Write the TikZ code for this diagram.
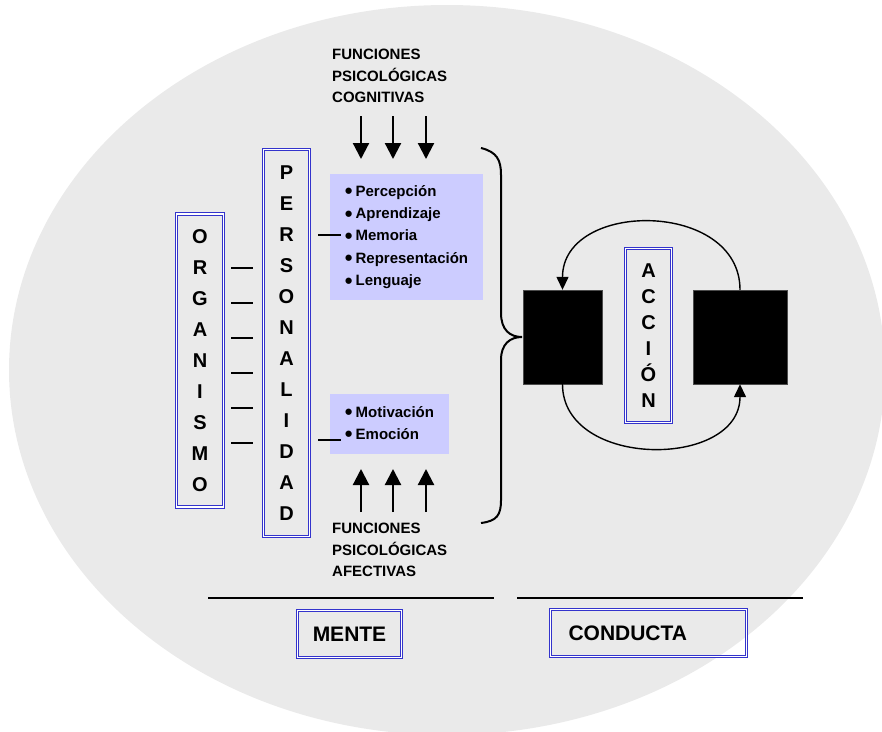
\documentclass[tikz,border=0pt]{standalone}
\usepackage{fontspec}
\setmainfont{Liberation Sans}
\usetikzlibrary{arrows.meta}
\definecolor{FrameBlue}{RGB}{51, 51, 204}
\definecolor{PaleLilac}{RGB}{204, 204, 255}
\definecolor{OvalGray}{RGB}{234, 234, 234}
\newcommand{\itemdot}{{\fontsize{22}{0}\selectfont\raisebox{-2.5pt}{\textbullet}}\hspace{3pt}}

\begin{document}
\begin{tikzpicture}[x=1pt, y=-1pt,
                dbox/.style={draw=FrameBlue, double=white, double distance=1.4pt, line width=0.9pt, inner sep=0pt, font=\fontsize{20}{31}\selectfont\bfseries, align=center},
                lbox/.style={fill=PaleLilac, inner sep=0pt, font=\fontsize{15}{22.3}\selectfont\bfseries, align=left},
                title/.style={anchor=north west, inner sep=0pt, font=\fontsize{15}{21.5}\selectfont\bfseries, align=left},
                farrow/.style={-{Triangle[length=16pt, width=16pt]}, line width=2.2pt},
                carrow/.style={-{Triangle[length=13pt, width=12pt]}, line width=1.4pt},
                tick/.style={line width=2pt},
                blk/.style={fill=black, draw=black!70, inner sep=0pt}
            ]
                \useasboundingbox (0,0) rectangle (882,731);
                % Background oval
                \fill[OvalGray] (447,370) ellipse [x radius=438pt, y radius=365pt];
                
                % Organismo and Personalidad (vertical letters)
                \node[dbox, minimum width=47pt, minimum height=293pt] (orga) at (200,360.5) {O\\R\\G\\A\\N\\I\\S\\M\\O};
                \node[dbox, minimum width=46pt, minimum height=387pt] (pers) at (286.5,343) {P\\E\\R\\S\\O\\N\\A\\L\\I\\D\\A\\D};
                \foreach \y in {268,303,338,373,408,443}
                    \draw[tick] (231,\y) -- (253,\y);
                
                % Psychological functions
                \node[lbox, minimum width=153pt, minimum height=126pt] (cogn) at (406.5,237) {\itemdot Percepción\\\itemdot Aprendizaje\\\itemdot Memoria\\\itemdot Representación\\\itemdot Lenguaje};
                \node[lbox, minimum width=119pt, minimum height=60pt] (afec) at (389.5,424) {\itemdot Motivación\\\itemdot Emoción};
                \draw[tick] (318,235) -- (341,235);
                \draw[tick] (318,440) -- (341,440);
                
                \node[title] (cogt) at (332,49) {FUNCIONES\\PSICOLÓGICAS\\COGNITIVAS};
                \node[title] (afet) at (332,523) {FUNCIONES\\PSICOLÓGICAS\\AFECTIVAS};
                \foreach \x in {361,393,426} {
                    \draw[farrow] (\x,116) -- (\x,159);
                    \draw[farrow] (\x,512) -- (\x,469);
                }
                
                % Brace
                \draw[line width=2pt] (481,148) .. controls (497,152) and (501,160) .. (501,175) -- (501,313)
                    .. controls (501,330) and (510,337) .. (522,337)
                    .. controls (510,337) and (501,344) .. (501,360) -- (501,500)
                    .. controls (501,515) and (497,521) .. (481,523);
                
                % Accion cycle
                \node[blk, minimum width=79pt, minimum height=94pt] (lsq) at (562.5,337) {};
                \node[blk, minimum width=94pt, minimum height=94pt] (rsq) at (740,337) {};
                \node[dbox, minimum width=46pt, minimum height=174pt, font=\fontsize{20}{26}\selectfont\bfseries] (acc) at (648.5,335.5) {A\\C\\C\\I\\Ó\\N};
                \draw[carrow] (rsq.north) .. controls +(0,-90) and +(0,-90) .. (lsq.north);
                \draw[carrow] (lsq.south) .. controls +(0,85) and +(0,85) .. (rsq.south);
                
                % Mente / Conducta
                \draw[line width=2.5pt] (208,598) -- (494,598);
                \draw[line width=2.5pt] (517,598) -- (803,598);
                \node[dbox, font=\fontsize{21}{25}\selectfont\bfseries, minimum width=104pt, minimum height=47pt] (mente) at (349.5,634) {MENTE};
                \node[dbox, font=\fontsize{21}{25}\selectfont\bfseries, minimum height=47pt, text width=160pt, align=left, inner xsep=18pt] (cond) at (648.5,633) {CONDUCTA};
            \end{tikzpicture}
\end{document}
